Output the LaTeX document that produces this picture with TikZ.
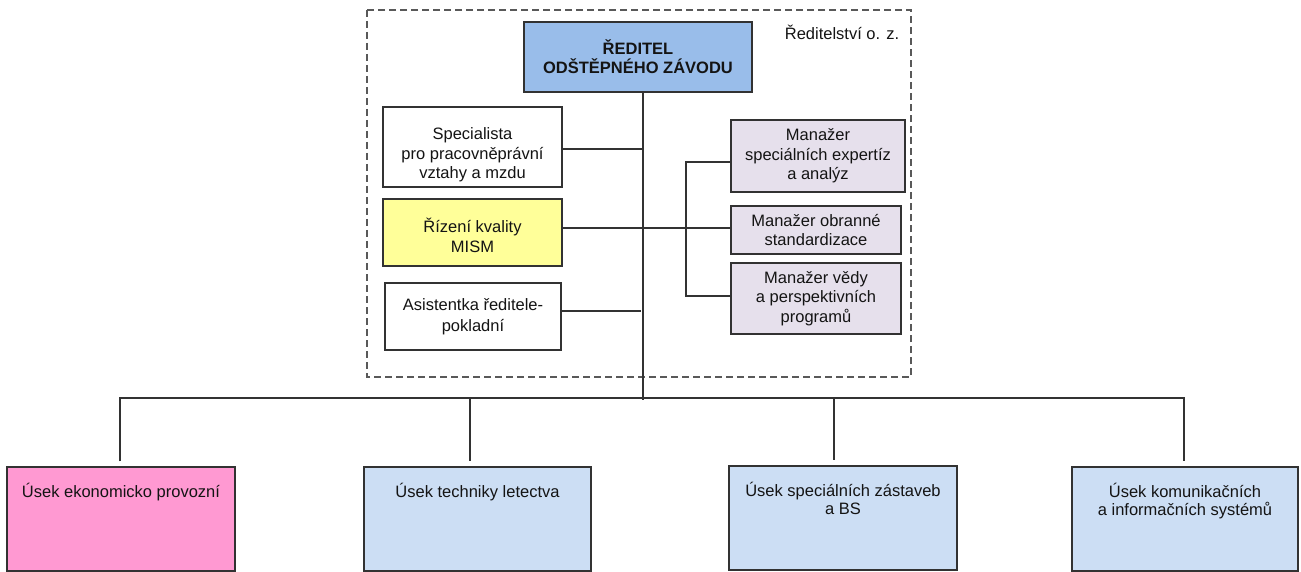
\documentclass[tikz,border=0pt]{standalone}
\usepackage{fontspec}
\setmainfont{Liberation Sans}
\definecolor{dirblue}{RGB}{153,189,234}
\definecolor{qyellow}{RGB}{255,255,153}
\definecolor{lav}{RGB}{230,224,236}
\definecolor{upink}{RGB}{255,153,210}
\definecolor{ublue}{RGB}{204,222,244}
\definecolor{ink}{RGB}{20,20,20}
\definecolor{edge}{RGB}{50,50,50}
\begin{document}
\begin{tikzpicture}[x=1pt,y=-1pt,
  every node/.style={text=ink},
  box/.style={draw=edge, line width=1.2pt, inner sep=0pt, align=center,
    font=\fontsize{16.5pt}{19.5pt}\selectfont},
  utext/.style={inner sep=0pt, align=center, anchor=north,
    font=\fontsize{16.5pt}{18pt}\selectfont},
  conn/.style={draw=edge, line width=1.3pt},
  frame/.style={draw=black!65, line width=1.2pt, dash pattern=on 7pt off 4pt}]
\useasboundingbox (0,0) rectangle (1301,572);

% dashed frame of the directorate
\draw[frame] (367,10) rectangle (911,377);
\node[anchor=base, inner sep=0pt, font=\fontsize{16.5pt}{19.5pt}\selectfont] (oz) at (842,40) {Ředitelství o. z.};

% director
\node[box, fill=dirblue, minimum width=228pt, minimum height=70pt, font=\fontsize{16.5pt}{19pt}\selectfont\bfseries] (dir) at (638,57) {ŘEDITEL\\ODŠTĚPNÉHO ZÁVODU};

% left staff
\node[box, fill=white, minimum width=179pt, minimum height=80pt] (spec) at (472.5,147) {\rule{0pt}{28pt}Specialista\\pro pracovněprávní\\vztahy a mzdu};
\node[box, fill=qyellow, minimum width=179pt, minimum height=67pt] (kval) at (472.5,232.5) {\rule{0pt}{20pt}Řízení kvality\\MISM};
\node[box, fill=white, minimum width=176pt, minimum height=67pt, font=\fontsize{16.5pt}{21pt}\selectfont] (asis) at (473,316.5) {Asistentka ředitele-\\pokladní};

% right managers
\node[box, fill=lav, minimum width=174pt, minimum height=72pt] (m1) at (818,156) {Manažer\\speciálních expertíz\\a analýz};
\node[box, fill=lav, minimum width=170pt, minimum height=48pt] (m2) at (816,230) {Manažer obranné\\standardizace};
\node[box, fill=lav, minimum width=170pt, minimum height=71pt] (m3) at (816,298.5) {Manažer vědy\\a perspektivních\\programů};

% divisions
\node[box, fill=upink, minimum width=228pt, minimum height=104pt] (u1) at (121,519) {};
\node[box, fill=ublue, minimum width=227pt, minimum height=104pt] (u2) at (477.5,519) {};
\node[box, fill=ublue, minimum width=228pt, minimum height=104pt] (u3) at (843,518) {};
\node[box, fill=ublue, minimum width=226pt, minimum height=104pt] (u4) at (1185,519) {};
\node[utext] (u1t) at ([yshift=-17pt]u1.north) {Úsek ekonomicko provozní};
\node[utext] (u2t) at ([yshift=-17pt]u2.north) {Úsek techniky letectva};
\node[utext] (u3t) at ([yshift=-17pt]u3.north) {Úsek speciálních zástaveb\\a BS};
\node[utext] (u4t) at ([yshift=-17pt]u4.north) {Úsek komunikačních\\a informačních systémů};

% coordinates of the trunk, bracket and bus
\coordinate (tt) at (643,92);
\coordinate (tb) at (643,400);
\coordinate (bkb) at (686,296);
\coordinate (busL) at (120,398);
\coordinate (busR) at (1184,398);
\coordinate (b2) at (470,398);
\coordinate (b3) at (834,398);

% trunk
\draw[conn] (dir.south -| tt) -- (tb);
% staff links
\draw[conn] ([yshift=-2pt]spec.east) -- ([yshift=-2pt]spec.east -| tt);
\draw[conn] ([yshift=4.5pt]kval.east) -- ([yshift=4.5pt]kval.east -| m2.west);
\draw[conn] ([yshift=5.5pt]asis.east) -- ([yshift=5.5pt,xshift=-2pt]asis.east -| tt);
% managers bracket
\draw[conn] ([yshift=-6pt]m1.west) -| (bkb) -- ([yshift=2.5pt]m3.west);
% bus and drops
\draw[conn] ([yshift=5pt]u1.north -| busL) -- (busL) -- (busR) -- ([yshift=5pt]u4.north -| busR);
\draw[conn] (b2) -- ([yshift=5pt]u2.north -| b2);
\draw[conn] (b3) -- ([yshift=5pt]u3.north -| b3);
\end{tikzpicture}
\end{document}
